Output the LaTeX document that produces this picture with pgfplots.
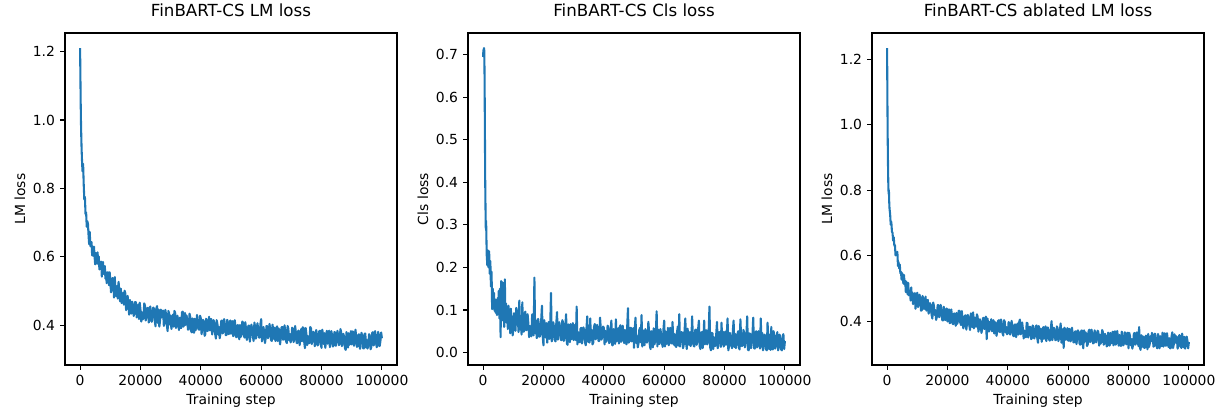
\documentclass[border=0pt]{standalone}
\usepackage{fontspec}
\setmainfont{DejaVu Sans}
\usepackage{pgfplots}
\usepackage{pgfplotstable}
\pgfplotsset{compat=1.18}
\definecolor{mplblue}{RGB}{31,119,180}

% step, LM loss, Cls loss, ablated LM loss
\pgfplotstableread{
step lm cls abl
0 1.210 0.695 1.235
100 1.130 0.712 1.080
200 1.050 0.705 0.960
300 0.990 0.716 0.880
400 0.950 0.710 0.820
500 0.915 0.640 0.790
600 0.890 0.520 0.800
700 0.868 0.405 0.765
800 0.850 0.340 0.745
900 0.861 0.290 0.736
1000 0.872 0.310 0.728
1200 0.812 0.230 0.695
1400 0.767 0.205 0.704
1600 0.775 0.240 0.674
1800 0.725 0.200 0.670
2000 0.730 0.238 0.646
2200 0.688 0.185 0.657
2400 0.704 0.215 0.631
2600 0.697 0.155 0.632
2800 0.664 0.190 0.601
3000 0.637 0.102 0.610
3200 0.673 0.150 0.606
3400 0.631 0.118 0.612
3600 0.637 0.140 0.569
3800 0.643 0.098 0.581
4000 0.604 0.125 0.561
4200 0.626 0.093 0.573
4400 0.603 0.110 0.546
4600 0.630 0.088 0.551
4800 0.601 0.128 0.527
5000 0.578 0.095 0.547
5200 0.611 0.145 0.533
5400 0.600 0.080 0.515
5600 0.580 0.150 0.541
5800 0.613 0.036 0.512
6000 0.579 0.168 0.524
6200 0.601 0.090 0.489
6400 0.563 0.165 0.521
6600 0.583 0.075 0.499
6800 0.569 0.120 0.482
7000 0.586 0.060 0.517
7200 0.542 0.172 0.479
7400 0.575 0.085 0.494
7600 0.585 0.115 0.486
7800 0.550 0.070 0.463
8000 0.556 0.098 0.503
8200 0.573 0.055 0.468
8400 0.536 0.110 0.487
8600 0.555 0.068 0.452
8800 0.523 0.092 0.474
9000 0.553 0.045 0.456
9200 0.555 0.103 0.486
9400 0.532 0.062 0.438
9600 0.517 0.085 0.475
9800 0.555 0.040 0.480
10000 0.532 0.054 0.487
10250 0.496 0.092 0.443
10500 0.512 0.091 0.458
10750 0.538 0.051 0.481
11000 0.530 0.105 0.469
11250 0.481 0.097 0.432
11500 0.541 0.080 0.434
11750 0.489 0.048 0.477
12000 0.485 0.122 0.467
12250 0.515 0.054 0.437
12500 0.478 0.086 0.450
12750 0.527 0.042 0.475
13000 0.499 0.118 0.432
13250 0.470 0.049 0.463
13500 0.507 0.049 0.465
13750 0.465 0.091 0.423
14000 0.475 0.096 0.431
14250 0.495 0.052 0.455
14500 0.460 0.055 0.448
14750 0.501 0.090 0.419
15000 0.493 0.068 0.408
15250 0.444 0.036 0.457
15500 0.458 0.062 0.448
15750 0.486 0.043 0.419
16000 0.462 0.038 0.434
16250 0.431 0.089 0.404
16500 0.474 0.090 0.414
16750 0.439 0.040 0.449
17000 0.434 0.176 0.449
17250 0.469 0.046 0.412
17500 0.461 0.076 0.420
17750 0.427 0.034 0.450
18000 0.436 0.036 0.432
18250 0.468 0.079 0.404
18500 0.467 0.065 0.402
18750 0.423 0.037 0.444
19000 0.437 0.044 0.435
19250 0.460 0.076 0.403
19500 0.418 0.110 0.415
19750 0.466 0.038 0.439
20000 0.446 0.017 0.399
20250 0.411 0.076 0.432
20500 0.438 0.063 0.436
20750 0.417 0.035 0.394
21000 0.421 0.069 0.396
21250 0.464 0.023 0.436
21500 0.457 0.046 0.417
21750 0.414 0.072 0.391
22000 0.426 0.032 0.391
22250 0.450 0.066 0.424
22500 0.451 0.140 0.412
22750 0.408 0.026 0.386
23000 0.416 0.040 0.425
23250 0.455 0.071 0.392
23500 0.439 0.059 0.402
23750 0.410 0.029 0.432
24000 0.428 0.026 0.431
24250 0.452 0.068 0.395
24500 0.448 0.095 0.388
24750 0.412 0.030 0.431
25000 0.397 0.045 0.406
25250 0.449 0.071 0.378
25500 0.456 0.060 0.388
25750 0.407 0.030 0.416
26000 0.446 0.029 0.418
26250 0.396 0.076 0.374
26500 0.414 0.071 0.395
26750 0.446 0.027 0.419
27000 0.423 0.037 0.409
27250 0.440 0.061 0.386
27500 0.443 0.090 0.373
27750 0.398 0.021 0.424
28000 0.409 0.018 0.414
28250 0.445 0.066 0.382
28500 0.431 0.061 0.427
28750 0.400 0.024 0.378
29000 0.383 0.067 0.411
29250 0.442 0.031 0.385
29500 0.435 0.039 0.383
29750 0.402 0.069 0.421
30000 0.428 0.029 0.414
30250 0.389 0.063 0.368
30500 0.408 0.065 0.380
30750 0.431 0.029 0.406
31000 0.396 0.108 0.393
31250 0.442 0.019 0.364
31500 0.437 0.048 0.375
31750 0.392 0.026 0.409
32000 0.400 0.024 0.410
32250 0.428 0.055 0.376
32500 0.414 0.058 0.383
32750 0.386 0.021 0.414
33000 0.422 0.039 0.345
33250 0.393 0.059 0.408
33500 0.392 0.052 0.392
33750 0.438 0.024 0.368
34000 0.440 0.017 0.398
34250 0.396 0.056 0.375
34500 0.405 0.085 0.406
34750 0.436 0.025 0.369
35000 0.401 0.044 0.377
35250 0.429 0.023 0.403
35500 0.417 0.080 0.362
35750 0.387 0.029 0.397
36000 0.390 0.053 0.394
36250 0.434 0.019 0.355
36500 0.424 0.023 0.372
36750 0.384 0.060 0.400
37000 0.379 0.067 0.403
37250 0.420 0.031 0.367
37500 0.410 0.034 0.367
37750 0.378 0.065 0.405
38000 0.419 0.050 0.386
38250 0.385 0.027 0.363
38500 0.395 0.027 0.356
38750 0.430 0.082 0.403
39000 0.408 0.056 0.398
39250 0.388 0.030 0.366
39500 0.387 0.040 0.382
39750 0.428 0.061 0.360
40000 0.420 0.058 0.363
40250 0.374 0.019 0.397
40500 0.391 0.051 0.394
40750 0.416 0.025 0.359
41000 0.409 0.031 0.369
41250 0.369 0.063 0.401
41500 0.374 0.059 0.385
41750 0.419 0.022 0.356
42000 0.414 0.024 0.354
42250 0.383 0.051 0.389
42500 0.397 0.075 0.390
42750 0.425 0.017 0.351
43000 0.385 0.017 0.372
43250 0.418 0.055 0.393
43500 0.418 0.048 0.359
43750 0.373 0.020 0.397
44000 0.389 0.078 0.405
44250 0.415 0.026 0.360
44500 0.406 0.036 0.364
44750 0.375 0.057 0.396
45000 0.361 0.021 0.376
45250 0.415 0.059 0.347
45500 0.404 0.064 0.371
45750 0.373 0.025 0.353
46000 0.395 0.029 0.351
46250 0.362 0.063 0.395
46500 0.375 0.041 0.394
46750 0.412 0.022 0.350
47000 0.414 0.053 0.361
47250 0.376 0.027 0.383
47500 0.385 0.019 0.382
47750 0.418 0.061 0.345
48000 0.401 0.104 0.349
48250 0.371 0.023 0.387
48500 0.371 0.027 0.373
48750 0.416 0.058 0.347
49000 0.408 0.058 0.356
49250 0.374 0.026 0.384
49500 0.388 0.033 0.387
49750 0.414 0.057 0.348
50000 0.375 0.011 0.334
50250 0.410 0.056 0.385
50500 0.412 0.082 0.372
50750 0.368 0.022 0.347
51000 0.372 0.039 0.377
51250 0.415 0.012 0.337
51500 0.393 0.022 0.358
51750 0.365 0.053 0.382
52000 0.367 0.058 0.346
52250 0.401 0.024 0.377
52500 0.388 0.088 0.384
52750 0.359 0.014 0.339
53000 0.401 0.052 0.353
53250 0.366 0.020 0.381
53500 0.378 0.017 0.369
53750 0.411 0.055 0.341
54000 0.407 0.040 0.341
54250 0.369 0.023 0.378
54500 0.364 0.029 0.400
54750 0.409 0.072 0.342
55000 0.387 0.049 0.356
55250 0.357 0.016 0.380
55500 0.369 0.008 0.369
55750 0.399 0.050 0.342
56000 0.399 0.044 0.343
56250 0.352 0.012 0.384
56500 0.376 0.057 0.378
56750 0.402 0.019 0.339
57000 0.390 0.025 0.350
57250 0.366 0.048 0.372
57500 0.354 0.097 0.393
57750 0.408 0.014 0.334
58000 0.395 0.054 0.352
58250 0.361 0.020 0.376
58500 0.379 0.020 0.318
58750 0.406 0.055 0.380
59000 0.392 0.042 0.375
59250 0.364 0.023 0.343
59500 0.364 0.013 0.351
59750 0.404 0.054 0.379
60000 0.418 0.075 0.340
60250 0.353 0.014 0.376
60500 0.367 0.049 0.376
60750 0.395 0.020 0.338
61000 0.380 0.029 0.343
61250 0.348 0.058 0.380
61500 0.362 0.017 0.359
61750 0.398 0.051 0.335
62000 0.397 0.058 0.335
62250 0.362 0.022 0.368
62500 0.370 0.021 0.369
62750 0.404 0.072 0.330
63000 0.389 0.035 0.350
63250 0.357 0.018 0.372
63500 0.354 0.043 0.363
63750 0.402 0.015 0.332
64000 0.385 0.013 0.328
64250 0.360 0.047 0.369
64500 0.393 0.061 0.372
64750 0.354 0.016 0.333
65000 0.369 0.090 0.317
65250 0.397 0.014 0.372
65500 0.354 0.030 0.337
65750 0.391 0.048 0.366
66000 0.386 0.046 0.360
66250 0.344 0.010 0.324
66500 0.364 0.019 0.330
66750 0.394 0.051 0.369
67000 0.395 0.080 0.374
67250 0.358 0.022 0.336
67500 0.359 0.008 0.341
67750 0.400 0.056 0.374
68000 0.378 0.039 0.357
68250 0.353 0.018 0.332
68500 0.348 0.048 0.334
68750 0.398 0.015 0.372
69000 0.390 0.024 0.363
69250 0.356 0.085 0.335
69500 0.374 0.037 0.347
69750 0.350 0.016 0.371
70000 0.357 0.014 0.366
70250 0.393 0.052 0.325
70500 0.388 0.054 0.359
70750 0.351 0.018 0.331
71000 0.363 0.025 0.339
71250 0.398 0.056 0.373
71500 0.379 0.075 0.367
71750 0.348 0.015 0.328
72000 0.348 0.008 0.332
72250 0.384 0.044 0.361
72500 0.384 0.048 0.352
72750 0.342 0.010 0.323
73000 0.366 0.031 0.325
73250 0.389 0.075 0.365
73500 0.353 0.019 0.356
73750 0.394 0.051 0.325
74000 0.392 0.052 0.364
74250 0.352 0.019 0.332
74500 0.333 0.023 0.344
74750 0.392 0.050 0.368
75000 0.373 0.108 0.326
75250 0.342 0.012 0.366
75500 0.368 0.005 0.369
75750 0.348 0.046 0.328
76000 0.348 0.045 0.334
76250 0.395 0.008 0.370
76500 0.391 0.036 0.346
76750 0.345 0.015 0.325
77000 0.358 0.016 0.358
77250 0.381 0.044 0.330
77500 0.379 0.072 0.324
77750 0.339 0.010 0.368
78000 0.346 0.026 0.351
78250 0.386 0.048 0.326
78500 0.370 0.042 0.332
78750 0.341 0.013 0.366
79000 0.353 0.070 0.363
79250 0.383 0.019 0.329
79500 0.384 0.049 0.338
79750 0.343 0.014 0.365
80000 0.334 0.026 0.317
80250 0.387 0.049 0.364
80500 0.372 0.018 0.353
80750 0.345 0.043 0.326
81000 0.377 0.080 0.345
81250 0.334 0.005 0.316
81500 0.358 0.015 0.328
81750 0.384 0.046 0.361
82000 0.346 0.036 0.364
82250 0.378 0.017 0.328
82500 0.384 0.010 0.333
82750 0.336 0.051 0.366
83000 0.353 0.075 0.358
83250 0.383 0.013 0.324
83500 0.369 0.044 0.382
83750 0.338 0.010 0.320
84000 0.341 0.021 0.312
84250 0.380 0.042 0.357
84500 0.379 0.050 0.352
84750 0.340 0.011 0.321
85000 0.358 0.007 0.353
85250 0.384 0.078 0.318
85500 0.371 0.035 0.320
85750 0.342 0.015 0.356
86000 0.345 0.017 0.348
86250 0.389 0.053 0.314
86500 0.380 0.047 0.361
86750 0.339 0.012 0.321
87000 0.352 0.024 0.329
87250 0.375 0.041 0.354
87500 0.363 0.085 0.338
87750 0.333 0.007 0.364
88000 0.328 0.005 0.358
88250 0.380 0.045 0.322
88500 0.372 0.043 0.324
88750 0.335 0.010 0.362
89000 0.377 0.027 0.346
89250 0.343 0.042 0.325
89500 0.353 0.082 0.317
89750 0.383 0.011 0.361
90000 0.344 0.009 0.349
90250 0.382 0.046 0.317
90500 0.380 0.050 0.354
90750 0.340 0.012 0.323
91000 0.347 0.016 0.334
91250 0.387 0.050 0.365
91500 0.363 0.029 0.322
91750 0.337 0.009 0.358
92000 0.339 0.080 0.363
92250 0.373 0.014 0.325
92500 0.373 0.046 0.326
92750 0.331 0.005 0.363
93000 0.354 0.019 0.340
93250 0.378 0.042 0.321
93500 0.367 0.038 0.348
93750 0.333 0.007 0.317
94000 0.332 0.005 0.318
94250 0.375 0.070 0.354
94500 0.376 0.034 0.366
94750 0.335 0.008 0.318
95000 0.357 0.042 0.330
95250 0.332 0.006 0.360
95500 0.343 0.060 0.334
95750 0.374 0.012 0.354
96000 0.366 0.007 0.350
96250 0.330 0.050 0.316
96500 0.336 0.039 0.323
96750 0.377 0.009 0.357
97000 0.380 0.017 0.357
97250 0.341 0.038 0.324
97500 0.347 0.048 0.318
97750 0.383 0.005 0.362
98000 0.363 0.012 0.343
98250 0.336 0.042 0.320
98500 0.340 0.031 0.352
98750 0.381 0.007 0.316
99000 0.369 0.005 0.328
99250 0.339 0.039 0.353
99500 0.353 0.043 0.341
99750 0.379 0.008 0.317
100000 0.362 0.027 0.336
}\losses

\pgfplotsset{
  lossaxis/.style={
    scale only axis,width=239.04bp,height=239.04bp,
    anchor=south west,
    xmin=-5000,xmax=105000,
    xtick={0,20000,40000,60000,80000,100000},
    xticklabels={0,20000,40000,60000,80000,100000},
    scaled x ticks=false,scaled y ticks=false,
    xtick pos=left,ytick pos=left,
    tick align=outside,major tick length=3.5bp,
    every tick/.style={black,line width=0.8bp},
    axis line style={line width=0.8bp,black},
    font=\fontsize{10bp}{12bp}\selectfont,
    xticklabel style={anchor=north,inner sep=0pt,yshift=-3.5bp},
    yticklabel style={anchor=east,inner sep=0pt,xshift=-3.5bp},
    title style={at={(axis description cs:0.5,1)},anchor=base,yshift=6bp,
      font=\fontsize{12bp}{14bp}\selectfont},
    xlabel style={at={(axis description cs:0.5,0)},anchor=base,yshift=-28.1bp},
    ylabel style={at={([xshift=-32.4bp]axis description cs:0,0.5)},anchor=center,rotate=0},
    xlabel={Training step},
  },
  lossline/.style={mplblue,line width=1.5bp,line join=round,no marks},
}

\begin{document}
\begin{tikzpicture}
\useasboundingbox (0,0) rectangle (874.8bp,293.04bp);

\begin{axis}[lossaxis,at={(46.8bp,30.24bp)},
  ymin=0.2839,ymax=1.2541,
  ytick={0.4,0.6,0.8,1.0,1.2},yticklabels={0.4,0.6,0.8,1.0,1.2},
  title={FinBART-CS LM loss},ylabel={LM loss}]
\addplot[lossline] table[x=step,y=lm]{\losses};
\end{axis}

\begin{axis}[lossaxis,at={(336.96bp,30.24bp)},
  ymin=-0.0295,ymax=0.7515,
  ytick={0,0.1,0.2,0.3,0.4,0.5,0.6,0.7},
  yticklabels={0.0,0.1,0.2,0.3,0.4,0.5,0.6,0.7},
  title={FinBART-CS Cls loss},ylabel={Cls loss}]
\addplot[lossline] table[x=step,y=cls]{\losses};
\end{axis}

\begin{axis}[lossaxis,at={(627.84bp,30.24bp)},
  ymin=0.266,ymax=1.281,
  ytick={0.4,0.6,0.8,1.0,1.2},yticklabels={0.4,0.6,0.8,1.0,1.2},
  title={FinBART-CS ablated LM loss},ylabel={LM loss}]
\addplot[lossline] table[x=step,y=abl]{\losses};
\end{axis}
\end{tikzpicture}
\end{document}
